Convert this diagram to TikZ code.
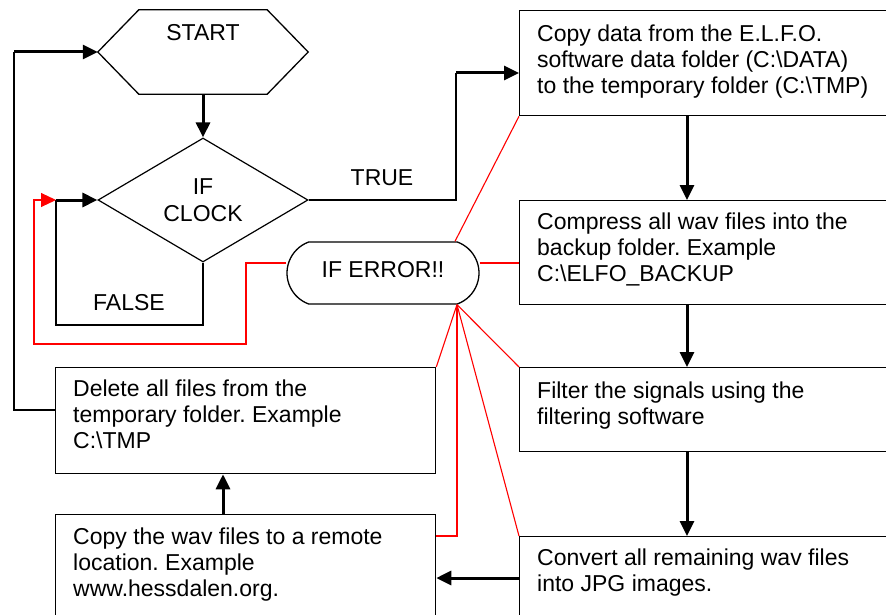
\documentclass[tikz,border=0pt]{standalone}
\usepackage{fontspec}
\setmainfont{Liberation Sans}
\usetikzlibrary{arrows.meta,shapes.geometric,shapes.misc,calc}
\frenchspacing

\begin{document}
\begin{tikzpicture}[x=1pt,y=-1pt,
  line/.style={line width=1.3pt, draw=black},
  flow/.style={line width=3pt, -{Triangle[length=15pt,width=14pt]}},
  errline/.style={line width=1.1pt, draw=red},
  stepbox/.style={draw, line width=1.3pt, rectangle, anchor=north west,
                  inner sep=0pt, minimum width=420pt},
  txt/.style={anchor=north west, inner sep=0pt, align=left,
              font=\fontsize{23}{26}\selectfont},
  lbl/.style={inner sep=0pt, font=\fontsize{23}{26}\selectfont},
]
\useasboundingbox (0,0) rectangle (886,615);
\fill[white] (0,0) rectangle (886,615);
\clip (0,0) rectangle (886,615);

% start terminal (hexagon)
\node[minimum width=210pt, minimum height=84pt, inner sep=0pt] (start) at (203,52) {};
\draw[line] (start.west) -- ($(start.north west)+(41,0)$) -- ($(start.north east)+(-41,0)$)
  -- (start.east) -- ($(start.south east)+(-41,0)$) -- ($(start.south west)+(41,0)$) -- cycle;
\node[lbl] (starttext) at (203,33) {START};

% clock decision
\node[draw, line width=1.2pt, diamond, minimum width=210pt, minimum height=124pt,
      inner sep=0pt, align=center, font=\fontsize{23}{27}\selectfont] (clock) at (203,200) {IF\\CLOCK};

% error terminal
\node[draw, line width=1.3pt, rounded rectangle, rounded rectangle arc length=140,
      minimum width=192pt, minimum height=62pt, inner sep=0pt, text depth=8pt,
      font=\fontsize{23}{26}\selectfont] (err) at (383,273) {IF ERROR!!};

% process boxes, right column
\node[stepbox, minimum height=105pt] (copy) at (519,10) {};
\node[stepbox, minimum height=104pt] (compress) at (519,200) {};
\node[stepbox, minimum height=84pt] (filter) at (519,367) {};
\node[stepbox, minimum height=120pt] (convert) at (519,536) {};
% process boxes, left column
\node[stepbox, minimum width=380pt, minimum height=106pt] (delete) at (55,367) {};
\node[stepbox, minimum width=380pt, minimum height=120pt] (remote) at (55,514) {};

% box texts
\node[txt] (copyt) at ($(copy.north west)+(18,15)$)
  {Copy data from the E.L.F.O.\\software data folder (C:\textbackslash DATA)\\to the temporary folder (C:\textbackslash TMP)};
\node[txt] (compresst) at ($(compress.north west)+(18,13)$)
  {Compress all wav files into the\\backup folder. Example\\C:\textbackslash ELFO\_BACKUP};
\node[txt] (filtert) at ($(filter.north west)+(18,15)$)
  {Filter the signals using the\\filtering software};
\node[txt] (convertt) at ($(convert.north west)+(18,13)$)
  {Convert all remaining wav files\\into JPG images.};
\node[txt] (deletet) at ($(delete.north west)+(18,13)$)
  {Delete all files from the\\temporary folder. Example\\C:\textbackslash TMP};
\node[txt] (remotet) at ($(remote.north west)+(18,14)$)
  {Copy the wav files to a remote\\location. Example\\www.hessdalen.org.};

% branch labels
\node[lbl] (truel) at (382,178) {TRUE};
\node[lbl] (falsel) at (129,303) {FALSE};

% helper points for routing
\coordinate (colR) at (687,0);
\coordinate (colL) at (223,0);
\coordinate (rowC) at (0,578);
\coordinate (tk) at (456,73);
\coordinate (fk) at (56,325);
\coordinate (lk) at (14,410);
\coordinate (r1) at (246,344);
\coordinate (r2) at (34,344);
\coordinate (eb) at ([xshift=74pt]err.south);

% main flow
\draw[flow] (start.south) -- (clock.north);
\draw[line] (clock.east) -| (tk);
\draw[flow] (tk) -- (copy.west |- tk);
\draw[flow] (copy.south -| colR) -- (compress.north -| colR);
\draw[flow] (compress.south -| colR) -- (filter.north -| colR);
\draw[flow] (filter.south -| colR) -- (convert.north -| colR);
\draw[flow] (convert.west |- rowC) -- (remote.east |- rowC);
\draw[flow] (remote.north -| colL) -- (delete.south -| colL);

% false loop
\draw[line] (clock.south) |- (fk) -- (fk |- clock.west);
\draw[flow] (fk |- clock.west) -- (clock.west);

% return to start
\draw[line] (delete.west |- lk) -- (lk) -- (lk |- start.west);
\draw[flow] (lk |- start.west) -- (start.west);

% error connections
\draw[errline, -{Triangle[length=15pt,width=14pt]}] ([yshift=10pt]err.west) -| (r1) -- (r2)
  -- (r2 |- clock.west) -- (fk |- clock.west);
\draw[errline] ([xshift=72pt]err.north) -- (copy.south west);
\draw[errline] ([yshift=10pt]err.east) -- ([yshift=10pt]err.east -| compress.west);
\draw[errline] (eb) -- (filter.north west);
\draw[errline] (eb) -- (convert.north west);
\draw[errline] (eb) -- (delete.north east);
\draw[errline] (eb) -- (eb |- convert.north) -- (remote.east |- convert.north);
\end{tikzpicture}
\end{document}
